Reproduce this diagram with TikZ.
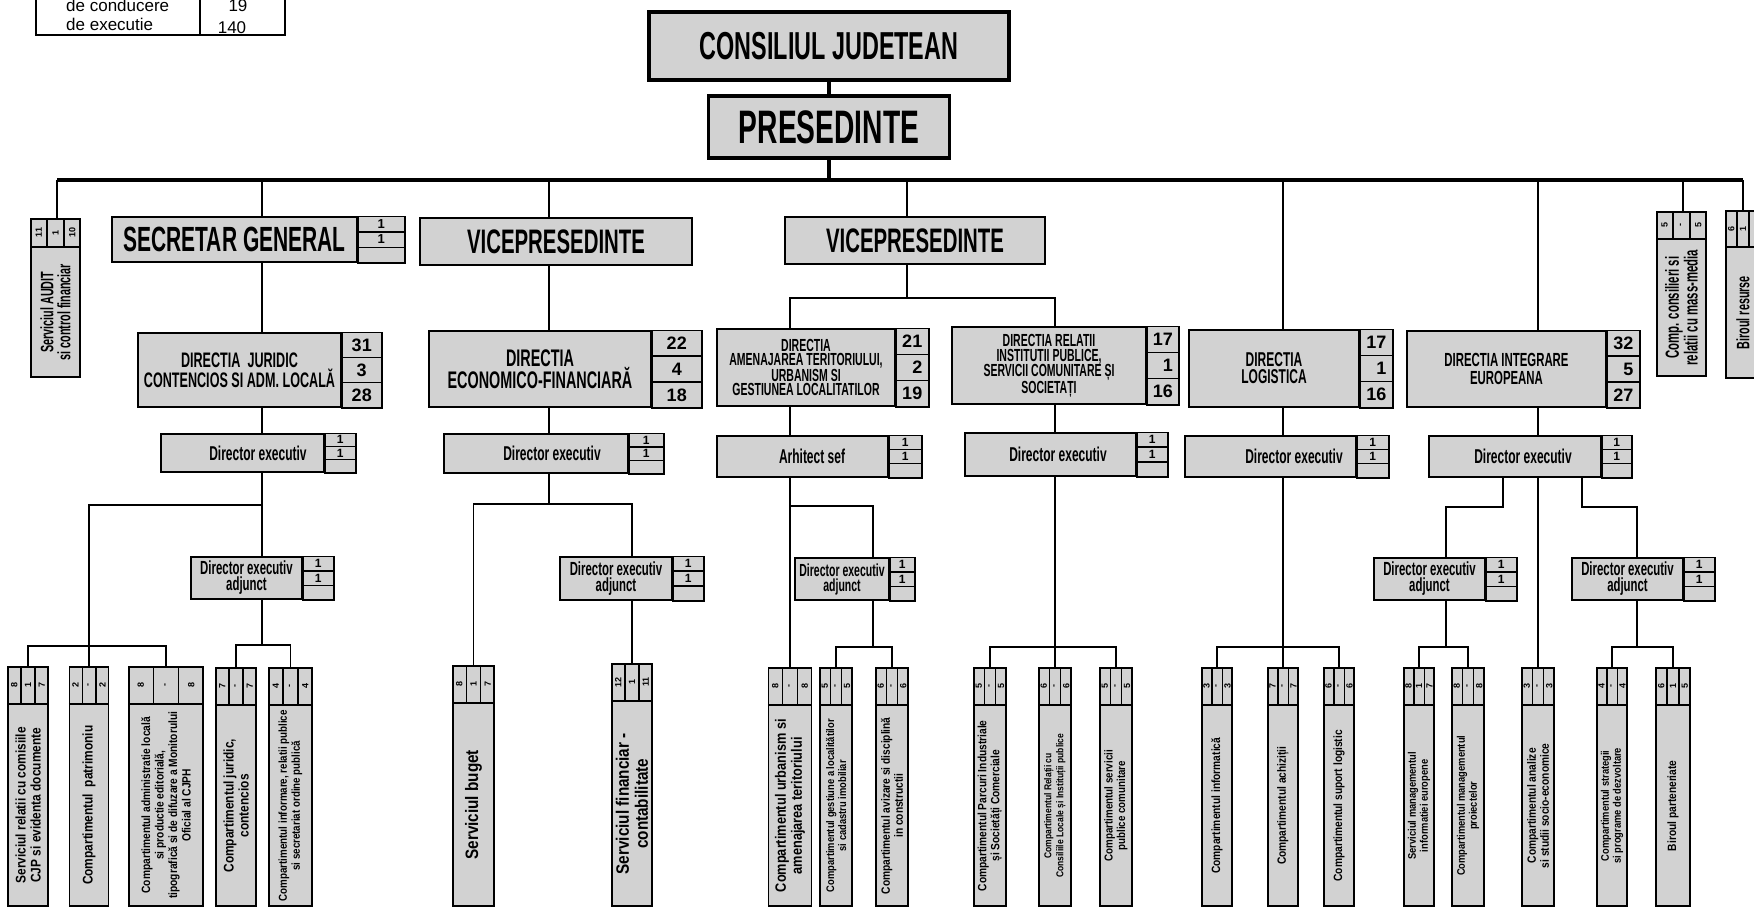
\documentclass[tikz,border=0pt]{standalone}
\usepackage{fontspec}
\setmainfont{Liberation Sans}
\newfontfamily\hfont{Liberation Sans}[FakeStretch=0.6]
\newfontfamily\tfont{Liberation Sans}[FakeStretch=0.85]
\usetikzlibrary{calc}

\definecolor{boxgray}{RGB}{210,210,210}

% number column at the right side of a box
\newcommand{\numcol}[6][]{%
  \draw[boxline,fill=boxgray] (#2.north east) rectangle ([xshift=#3]#2.south east);
  \draw[boxline] ($(#2.north east)!1/3!(#2.south east)$) -- ++(#3,0);
  \draw[boxline] ($(#2.north east)!2/3!(#2.south east)$) -- ++(#3,0);
  \node[numtxt,#1] (#2-n1) at ($(#2.north east)!1/6!(#2.south east)+(#3/2,0)$) {#4};
  \node[numtxt,#1] (#2-n2) at ($(#2.east)+(#3/2,0)$) {#5};
  \node[numtxt,#1] (#2-n3) at ($(#2.north east)!5/6!(#2.south east)+(#3/2,0)$) {#6};
}

% standing box with a three column head
\newcommand{\unit}[9][fs=14/15]{%
  \node[unitbox, minimum width=#5, minimum height=\ubot-#4, anchor=north] (#2) at (#3,#4) {};
  \draw[boxline] ([yshift=-\hh]#2.north west) -- ([yshift=-\hh]#2.north east);
  \draw[boxline] ($(#2.north west)!1/3!(#2.north east)$) -- ++(0,\hh);
  \draw[boxline] ($(#2.north west)!2/3!(#2.north east)$) -- ++(0,\hh);
  \node[unitnum] (#2-a) at ($(#2.north west)!1/6!(#2.north east)+(0,\hh/2)$) {#6};
  \node[unitnum] (#2-b) at ($(#2.north)+(0,\hh/2)$) {#7};
  \node[unitnum] (#2-c) at ($(#2.north west)!5/6!(#2.north east)+(0,\hh/2)$) {#8};
  \node[unittxt,#1] (#2-t) at ($([yshift=-\hh]#2.north)!.5!(#2.south)$) {#9};
}

\begin{document}
\begin{tikzpicture}[x=1pt,y=-1pt,
    boxline/.style={line width=1.5pt},
    conn/.style={line width=1.8pt},
    busline/.style={line width=3.6pt},
    hf/.style args={#1/#2}{font=\hfont\bfseries\fontsize{#1}{#2}\selectfont},
    fs/.style args={#1/#2}{font=\tfont\bfseries\fontsize{#1}{#2}\selectfont},
    nsz/.style={font=\bfseries\fontsize{#1}{#1}\selectfont},
    topbox/.style={draw, fill=boxgray, line width=3.8pt, inner sep=0pt},
    headbox/.style={draw, fill=boxgray, line width=1.5pt, inner sep=0pt, align=center},
    numtxt/.style={inner sep=0pt, nsz=18},
    unitbox/.style={draw, fill=boxgray, line width=1.5pt, inner sep=0pt},
    unitnum/.style={rotate=90, inner sep=0pt, nsz=9},
    unittxt/.style={rotate=90, align=center, inner sep=0pt},
    legtxt/.style={inner sep=0pt, font=\fontsize{17}{17}\selectfont}]

  \useasboundingbox (0,0) rectangle (1754,906);

  % legend table (its top is cut by the page)
  \draw[boxline] (36,-40) rectangle (285,35);
  \draw[boxline] (200,-40) -- (200,35);
  \node[legtxt, anchor=base west] (lgc) at (66,11) {de conducere};
  \node[legtxt, anchor=base west] (lge) at (66,30) {de executie};
  \node[legtxt, anchor=base] (lg19) at (238,11) {19};
  \node[legtxt, anchor=base] (lg140) at (232,33) {140};

  % top of the chart
  \node[topbox, hf=39/39, minimum width=360, minimum height=68] (cj) at (829,46) {CONSILIUL JUDETEAN};
  \node[topbox, hf=47/47, minimum width=241, minimum height=62] (pr) at (829,127) {PRESEDINTE};

  % second level
  \node[headbox, hf=35/35, minimum width=245, minimum height=45] (sg) at (234.5,239.5) {SECRETAR GENERAL};
  \numcol[nsz=13]{sg}{47}{1}{1}{}
  \node[headbox, hf=34/34, minimum width=272, minimum height=47] (vp1) at (556,241.5) {VICEPRESEDINTE};
  \node[headbox, hf=34/34, minimum width=260, minimum height=47] (vp2) at (915,240.5) {VICEPRESEDINTE};

  % directii
  \node[headbox, hf=21/20, minimum width=203, minimum height=74] (dj) at (239.5,370) {DIRECTIA\ \ JURIDIC\\CONTENCIOS SI ADM. LOCALĂ};
  \numcol{dj}{40}{31}{3}{28}
  \node[headbox, hf=24/21, minimum width=222, minimum height=76] (dEF) at (540,369) {DIRECTIA\\ECONOMICO-FINANCIARĂ};
  \numcol{dEF}{50}{22}{4}{18}
  \node[headbox, hf=17.5/14.5, minimum width=178, minimum height=77] (dAM) at (806,367.5) {DIRECTIA\\AMENAJAREA TERITORIULUI,\\URBANISM SI\\GESTIUNEA LOCALITATILOR};
  \numcol{dAM}{33}{21}{\phantom{0}2}{19}
  \node[headbox, hf=17.5/15, minimum width=194, minimum height=77] (dRE) at (1049,365.5) {DIRECTIA RELATII\\INSTITUTII PUBLICE,\\SERVICII COMUNITARE ȘI\\SOCIETAȚI};
  \numcol{dRE}{32}{17}{\phantom{0}1}{16}
  \node[headbox, hf=20/17, minimum width=170, minimum height=77] (dLO) at (1274,368.5) {DIRECTIA\\LOGISTICA};
  \numcol{dLO}{33}{17}{\phantom{0}1}{16}
  \node[headbox, hf=19/18, minimum width=199, minimum height=76] (dIN) at (1506.5,369) {DIRECTIA INTEGRARE\\EUROPEANA};
  \numcol{dIN}{33}{32}{\phantom{0}5}{27}

  % directori
  \node[headbox, hf=20/20, minimum width=163, minimum height=38] (de1) at (242.5,453) {\hspace*{31pt}Director executiv};
  \numcol[nsz=12]{de1}{31}{1}{1}{}
  \node[headbox, hf=20/20, minimum width=184, minimum height=39] (de2) at (536,453.5) {\hspace*{32pt}Director executiv};
  \numcol[nsz=12]{de2}{35}{1}{1}{}
  \node[headbox, hf=20/20, minimum width=171, minimum height=41] (ars) at (802.5,456.5) {\hspace*{19pt}Arhitect sef};
  \numcol[nsz=12]{ars}{33}{1}{1}{}
  \node[headbox, hf=20/20, minimum width=171, minimum height=43] (deRE) at (1050.5,454.5) {\hspace*{15pt}Director executiv};
  \numcol[nsz=12]{deRE}{31}{1}{1}{}
  \node[headbox, hf=20/20, minimum width=171, minimum height=41] (deLO) at (1270.5,456.5) {\hspace*{47pt}Director executiv};
  \numcol[nsz=12]{deLO}{32}{1}{1}{}
  \node[headbox, hf=20/20, minimum width=172, minimum height=41] (deIN) at (1515,456.5) {\hspace*{16pt}Director executiv};
  \numcol[nsz=12]{deIN}{30}{1}{1}{}

  % adjuncti
  \node[headbox, hf=19/16, minimum width=111, minimum height=42] (adj1) at (246.5,578) {Director executiv\\adjunct};
  \numcol[nsz=12]{adj1}{31}{1}{1}{}
  \node[headbox, hf=19/16, minimum width=112, minimum height=43] (adj2) at (616,578.5) {Director executiv\\adjunct};
  \numcol[nsz=12]{adj2}{31}{1}{1}{}
  \node[headbox, hf=17.5/15, minimum width=94, minimum height=42] (adj3) at (842,579) {Director executiv\\adjunct};
  \numcol[nsz=12]{adj3}{25}{1}{1}{}
  \node[headbox, hf=19/16, minimum width=111, minimum height=42] (adjL) at (1429.5,579) {Director executiv\\adjunct};
  \numcol[nsz=12]{adjL}{31}{1}{1}{}
  \node[headbox, hf=19/16, minimum width=111, minimum height=42] (adjR) at (1627.5,579) {Director executiv\\adjunct};
  \numcol[nsz=12]{adjR}{31}{1}{1}{}

  % boxes hanging from the bus
  \def\hh{29}\def\ubot{376}
  \unit[hf=18/17]{au}{55.5}{218}{49}{11}{1}{10}{Serviciul AUDIT\\si control financiar}
  \def\hh{28}\def\ubot{375}
  \unit[hf=19/15]{ck}{1681.5}{211}{49}{5}{-}{5}{Comp. consilieri si\\relatii cu mass-media}
  \def\hh{37}\def\ubot{377}
  \unit[hf=18/18]{bro}{1743}{210}{34}{6}{1}{}{Biroul resurse}

  % compartimente
  \def\hh{38}\def\ubot{905}
  \unit{b1}{28}{666}{40}{8}{1}{7}{Serviciul relatii cu comisiile\\CJP si evidenta documente}
  \unit{b2}{89}{666}{39}{2}{-}{2}{Compartimentul\ \ patrimoniu}
  \unit[fs=12/13.5]{b3}{166}{666}{74}{8}{-}{8}{Compartimentul administratie locală\\si productie editorială,\\tipografică si de difuzare a Monitorului\\Oficial al CJPH}
  \unit{b4}{236}{667}{40}{7}{-}{7}{Compartimentul juridic,\\contencios}
  \unit[fs=11.5/13]{b5}{290.5}{667}{43}{4}{-}{4}{Compartimentul informare, relatii publice\\si secretariat ordine publică}
  \unit[fs=18/19]{bbu}{473.5}{665}{41}{8}{1}{7}{Serviciul buget}
  \unit[fs=18/19]{bfi}{632}{663}{40}{12}{1}{11}{Serviciul financiar -\\contabilitate}
  \unit[fs=15/16]{bur}{790}{667}{43}{8}{-}{8}{Compartimentul urbanism si\\amenajarea teritoriului}
  \unit[fs=11/12]{bge}{836}{667}{32}{5}{-}{5}{Compartimentul gestiune a localitătilor\\si cadastru imobiliar}
  \unit[fs=12/13]{bav}{892}{667}{32}{6}{-}{6}{Compartimentul avizare si disciplină\\in constructii}
  \unit[fs=12/13]{bpa}{990}{667}{32}{5}{-}{5}{Compartimentul Parcuri Industriale\\și Societăți Comerciale}
  \unit[fs=10/12]{brl}{1055}{667}{32}{6}{-}{6}{Compartimentul Relații cu\\Consiliile Locale și Instituții publice}
  \unit[fs=11.5/12.5]{bse}{1116}{667}{32}{5}{-}{5}{Compartimentul servicii\\publice comunitare}
  \unit[fs=12/13]{binf}{1217}{667}{30}{3}{-}{3}{Compartimentul informatică}
  \unit[fs=12/13]{bach}{1283}{667}{30}{7}{-}{7}{Compartimentul achiziții}
  \unit[fs=12/13]{bsup}{1339}{667}{30}{6}{-}{6}{Compartimentul suport logistic}
  \unit[fs=11/12]{bsmi}{1419}{667}{30}{8}{1}{7}{Serviciul managementul\\informatiei europene}
  \unit[fs=11/12]{bcmp}{1468}{667}{32}{8}{-}{8}{Compartimentul managementul\\proiectelor}
  \unit[fs=12/13]{bana}{1538}{667}{32}{3}{-}{3}{Compartimentul analize\\si studii socio-economice}
  \unit[fs=11/12]{bstr}{1612}{667}{30}{4}{-}{4}{Compartimentul strategii\\si programe de dezvoltare}
  \unit[fs=12/13]{bbir}{1673}{667}{34}{6}{1}{5}{Biroul parteneriate}

  % draw the bus
  \coordinate (busL) at (57,180);
  \coordinate (busR) at (1743,180);
  \draw[line width=3.8pt] (cj.south) -- (pr.north);
  \draw[busline] (pr.south) -- (pr.south |- busL);
  \draw[busline] (busL) -- (busR);
  \foreach \x/\n in {57/au, 262/sg, 549/vp1, 907/vp2, 1283/dLO, 1538/dIN, 1683/ck, 1743/bro}
    \draw[conn] (\x,180) -- (\x,0 |- \n.north);

  % spines and branches
  \coordinate (c1) at (262,180);
  \coordinate (c2) at (549,180);
  \coordinate (c3) at (907,180);
  \coordinate (c3a) at (790,180);
  \coordinate (c3b) at (1055,180);
  \coordinate (c3c) at (873,180);
  \coordinate (c4) at (1283,180);
  \coordinate (c5) at (1538,180);
  \coordinate (c5a) at (1503,180);
  \coordinate (c5b) at (1446,180);
  \coordinate (c5c) at (1582,180);
  \coordinate (c5d) at (1637,180);

  % secretar general
  \coordinate (k1) at (262,505);
  \coordinate (j1) at (89,646);
  \coordinate (j2) at (262,645);
  \draw[conn] (sg.south -| c1) -- (dj.north -| c1);
  \draw[conn] (dj.south -| c1) -- (de1.north -| c1);
  \draw[conn] (de1.south -| c1) -- (adj1.north -| c1);
  \draw[conn] (k1) -| (j1);
  \draw[conn] (b1.north) |- (j1) -| (b3.north);
  \draw[conn] (b2.north) -- (b2.north |- j1);
  \draw[conn] (adj1.south -| c1) -- (j2);
  \draw[conn] (b4.north) |- (j2) -| (b5.north);

  % vicepresedinte 1
  \coordinate (k2) at (549,504);
  \draw[conn] (vp1.south -| c2) -- (dEF.north -| c2);
  \draw[conn] (dEF.south -| c2) -- (de2.north -| c2);
  \draw[conn] (de2.south -| c2) -- (k2);
  \draw[conn] (bbu.north) |- (k2) -| (adj2.north -| bfi.north);
  \draw[conn] (adj2.south -| bfi.north) -- (bfi.north);

  % vicepresedinte 2
  \coordinate (k3) at (907,298);
  \coordinate (k4) at (790,506);
  \coordinate (j4) at (873,647);
  \coordinate (j5) at (1055,647);
  \draw[conn] (vp2.south -| c3) -- (k3);
  \draw[conn] (dAM.north -| c3a) |- (k3) -| (dRE.north -| c3b);
  \draw[conn] (dAM.south -| c3a) -- (ars.north -| c3a);
  \draw[conn] (ars.south -| c3a) -- (bur.north);
  \draw[conn] (k4) -| (adj3.north -| c3c);
  \draw[conn] (adj3.south -| c3c) -- (j4);
  \draw[conn] (bge.north) |- (j4) -| (bav.north);
  \draw[conn] (dRE.south -| c3b) -- (deRE.north -| c3b);
  \draw[conn] (deRE.south -| c3b) -- (brl.north);
  \draw[conn] (bpa.north) |- (j5) -| (bse.north);

  % logistica
  \coordinate (j6) at (1283,647);
  \draw[conn] (dLO.south -| c4) -- (deLO.north -| c4);
  \draw[conn] (deLO.south -| c4) -- (bach.north);
  \draw[conn] (binf.north) |- (j6) -| (bsup.north);

  % integrare europeana
  \coordinate (k5) at (1503,507);
  \coordinate (k6) at (1582,507);
  \coordinate (j7) at (1446,647);
  \coordinate (j8) at (1637,647);
  \draw[conn] (dIN.south -| c5) -- (deIN.north -| c5);
  \draw[conn] (deIN.south -| c5) -- (bana.north);
  \draw[conn] (deIN.south -| c5a) -- (k5) -| (adjL.north -| c5b);
  \draw[conn] (deIN.south -| c5c) -- (k6) -| (adjR.north -| c5d);
  \draw[conn] (adjL.south -| c5b) -- (j7);
  \draw[conn] (bsmi.north) |- (j7) -| (bcmp.north);
  \draw[conn] (adjR.south -| c5d) -- (j8);
  \draw[conn] (bstr.north) |- (j8) -| (bbir.north);

\end{tikzpicture}
\end{document}
